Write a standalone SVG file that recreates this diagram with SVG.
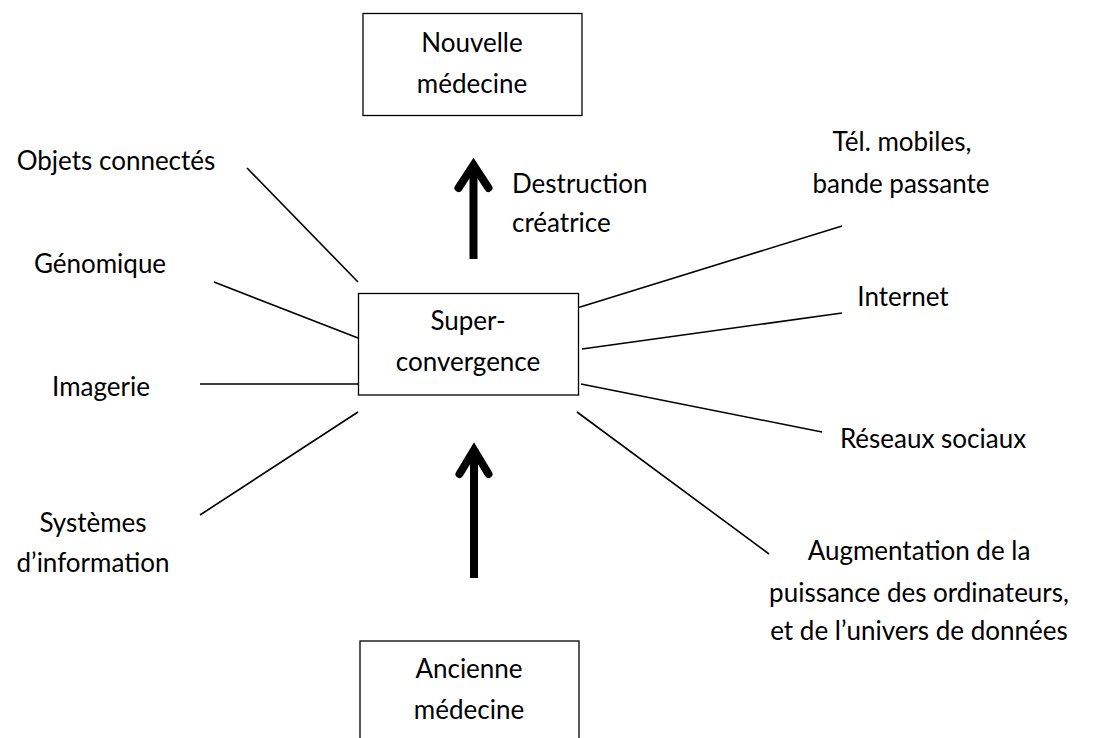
<svg xmlns="http://www.w3.org/2000/svg" width="1117" height="738" viewBox="0 0 1117 738">
<style>
text{font-family:Lato,"Open Sans","Liberation Sans",sans-serif;font-size:26px;fill:#000}
.m{text-anchor:middle}
.box{fill:#fff;stroke:#000;stroke-width:1.3}
.ln{stroke:#000;stroke-width:1.6;fill:none}
.ar{stroke:#000;stroke-width:8;fill:none}
.hd{stroke:#000;stroke-width:8;fill:none;stroke-linecap:round;stroke-linejoin:miter}
</style>
<rect width="1117" height="738" fill="#fff"/>
<g id="connectors">
<line class="ln" x1="247" y1="168" x2="358" y2="282"/>
<line class="ln" x1="214" y1="282" x2="358" y2="338"/>
<line class="ln" x1="200" y1="384" x2="361" y2="384"/>
<line class="ln" x1="200" y1="515" x2="358" y2="412"/>
<line class="ln" x1="577" y1="308" x2="842" y2="226"/>
<line class="ln" x1="582" y1="349" x2="842" y2="313"/>
<line class="ln" x1="581" y1="384" x2="822" y2="432"/>
<line class="ln" x1="577" y1="412" x2="769" y2="554"/>
<line class="ar" x1="473.5" y1="259" x2="473.5" y2="168"/>
<polyline class="hd" points="458.5,188 473.5,165 488.5,188"/>
<line class="ar" x1="474" y1="578" x2="474" y2="453"/>
<polyline class="hd" points="459.5,474 474,450 488.5,474"/>
</g>
<g id="node-nouvelle">
<rect class="box" x="363" y="13.5" width="219" height="102"/>
<text class="m" x="472" y="52">Nouvelle</text>
<text class="m" x="472" y="93">médecine</text>
</g>
<g id="node-super">
<rect class="box" x="358.5" y="293.5" width="220" height="101.5"/>
<text class="m" x="468" y="330">Super-</text>
<text class="m" x="468" y="371">convergence</text>
</g>
<g id="node-ancienne">
<rect class="box" x="360" y="641" width="219" height="110"/>
<text class="m" x="469" y="678">Ancienne</text>
<text class="m" x="469" y="719">médecine</text>
</g>
<g id="label-destruction">
<text x="512" y="193">Destruction</text>
<text x="512" y="232">créatrice</text>
</g>
<g id="label-objets"><text class="m" x="116" y="170">Objets connectés</text></g>
<g id="label-genomique"><text class="m" x="100" y="273">Génomique</text></g>
<g id="label-imagerie"><text class="m" x="101" y="396">Imagerie</text></g>
<g id="label-systemes">
<text class="m" x="93" y="532">Systèmes</text>
<text class="m" x="93" y="572">d’information</text>
</g>
<g id="label-tel">
<text class="m" x="902" y="151">Tél. mobiles,</text>
<text class="m" x="901" y="193">bande passante</text>
</g>
<g id="label-internet"><text class="m" x="903" y="306">Internet</text></g>
<g id="label-reseaux"><text class="m" x="933" y="448">Réseaux sociaux</text></g>
<g id="label-augmentation">
<text class="m" x="919" y="560">Augmentation de la</text>
<text class="m" x="919" y="602">puissance des ordinateurs,</text>
<text class="m" x="919" y="640">et de l’univers de données</text>
</g>
</svg>
